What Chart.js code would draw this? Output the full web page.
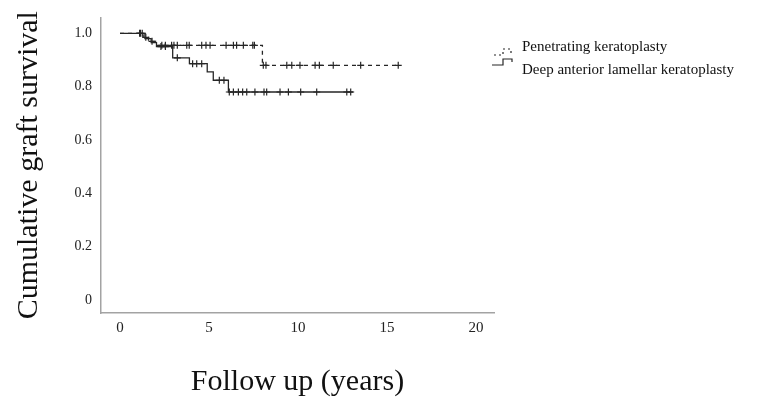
<!DOCTYPE html>
<html>
<head>
<meta charset="utf-8">
<script src="https://cdn.jsdelivr.net/npm/chart.js@4/dist/chart.umd.min.js"></script>
<style>
  html, body { margin: 0; padding: 0; background: #fff; }
  #wrap { width: 762px; height: 400px; }
</style>
</head>
<body>
<div id="wrap"><canvas id="km"></canvas></div>
<script>
// Kaplan-Meier curves (years, cumulative survival)
const seriesNames = ["Penetrating keratoplasty", "Deep anterior lamellar keratoplasty"];

const pkTimes = [0, 1.3, 1.6, 2.0, 8.0, 15.7];
const pkSurv  = [1.0, 0.985, 0.97, 0.955, 0.88, 0.88];
const pkCensored = [1.1, 1.45, 1.8, 2.35, 2.55, 2.9, 3.03, 3.22, 3.75, 3.89, 4.59, 4.83, 5.06, 5.96,
  6.37, 6.55, 6.93, 7.46, 7.55, 8.05, 8.2, 9.37, 9.65, 10.11, 10.96, 11.2, 11.98, 13.52, 15.63];

const dalkTimes = [0, 1.4, 1.75, 2.05, 2.96, 3.9, 4.9, 5.24, 6.09, 13.1];
const dalkSurv  = [1.0, 0.98, 0.965, 0.95, 0.908, 0.886, 0.855, 0.824, 0.78, 0.78];
const dalkCensored = [1.15, 1.25, 2.3, 2.55, 3.22, 4.08, 4.31, 4.59, 5.58, 5.84, 6.14, 6.37, 6.65,
  6.89, 7.12, 7.58, 8.09, 8.24, 8.99, 9.46, 10.15, 11.05, 12.74, 12.96];

const xTicks = [0, 5, 10, 15, 20];
const yTicks = [0, 0.2, 0.4, 0.6, 0.8, 1.0];

const serif = "'Liberation Serif', 'Times New Roman', serif";
const ink = '#262626';

// survival value at time t from the step function
function survAt(times, surv, t) {
  let s = surv[0];
  for (let i = 0; i < times.length; i++) {
    if (times[i] <= t) s = surv[i];
  }
  return s;
}

function curve(times, surv) {
  return times.map((t, i) => ({ x: t, y: surv[i] }));
}
function marks(cens, times, surv) {
  return cens.map(t => ({ x: t, y: survAt(times, surv, t) }));
}

// little step icons + text in the upper right
const kmLegend = {
  id: 'kmLegend',
  afterDraw(chart) {
    const ctx = chart.ctx;
    ctx.save();
    ctx.strokeStyle = ink;
    ctx.lineWidth = 1.2;
    // PK icon (dashed)
    ctx.setLineDash([2, 3]);
    ctx.beginPath();
    ctx.moveTo(494, 55); ctx.lineTo(503, 55); ctx.lineTo(503, 49); ctx.lineTo(511, 49); ctx.lineTo(511, 53);
    ctx.stroke();
    // DALK icon (solid)
    ctx.setLineDash([]);
    ctx.beginPath();
    ctx.moveTo(492, 65); ctx.lineTo(503, 65); ctx.lineTo(503, 59); ctx.lineTo(512, 59); ctx.lineTo(512, 62);
    ctx.stroke();

    ctx.fillStyle = '#111';
    ctx.font = '15px ' + serif;
    ctx.textBaseline = 'middle';
    ctx.textAlign = 'left';
    ctx.fillText(seriesNames[0], 522, 47);
    ctx.fillText(seriesNames[1], 522, 70);
    ctx.restore();
  }
};

new Chart(document.getElementById('km'), {
  type: 'scatter',
  data: {
    datasets: [
      {
        label: seriesNames[0],
        data: curve(pkTimes, pkSurv),
        showLine: true,
        stepped: 'before',
        borderColor: ink,
        borderWidth: 1.3,
        borderDash: [4, 4],
        pointRadius: 0
      },
      {
        label: seriesNames[1],
        data: curve(dalkTimes, dalkSurv),
        showLine: true,
        stepped: 'before',
        borderColor: ink,
        borderWidth: 1.3,
        pointRadius: 0
      },
      {
        label: 'PK censored',
        data: marks(pkCensored, pkTimes, pkSurv),
        showLine: false,
        pointStyle: 'cross',
        pointRadius: 3.5,
        borderColor: ink,
        borderWidth: 1.2
      },
      {
        label: 'DALK censored',
        data: marks(dalkCensored, dalkTimes, dalkSurv),
        showLine: false,
        pointStyle: 'cross',
        pointRadius: 3.5,
        borderColor: ink,
        borderWidth: 1.2
      }
    ]
  },
  options: {
    responsive: true,
    maintainAspectRatio: false,
    animation: false,
    layout: { padding: { left: 0, top: 15, right: 268, bottom: 0 } },
    plugins: {
      legend: { display: false },
      tooltip: { enabled: false }
    },
    scales: {
      x: {
        type: 'linear',
        min: -1.067,
        max: 21.01,
        afterBuildTicks: s => { s.ticks = xTicks.map(v => ({ value: v })); },
        afterFit: s => { s.height = 87; },
        grid: { display: false, drawTicks: false },
        border: { display: true, color: '#a3a3a3', width: 1.5 },
        ticks: { font: { family: serif, size: 15 }, color: '#222', padding: 6 },
        title: {
          display: true,
          text: 'Follow up (years)',
          font: { family: serif, size: 30 },
          color: '#111',
          padding: { top: 0, bottom: 0 }
        }
      },
      y: {
        type: 'linear',
        min: -0.0483,
        max: 1.0595,
        afterBuildTicks: s => { s.ticks = yTicks.map(v => ({ value: v })); },
        afterFit: s => { s.width = 101; },
        grid: { display: false, drawTicks: false },
        border: { display: true, color: '#a3a3a3', width: 1.5 },
        ticks: {
          font: { family: serif, size: 14 },
          color: '#222',
          padding: 9,
          callback: v => v === 0 ? '0' : v.toFixed(1)
        },
        title: {
          display: true,
          text: 'Cumulative graft survival',
          font: { family: serif, size: 30 },
          color: '#111',
          padding: { top: 11, bottom: 0 }
        }
      }
    }
  },
  plugins: [kmLegend]
});
</script>
</body>
</html>
